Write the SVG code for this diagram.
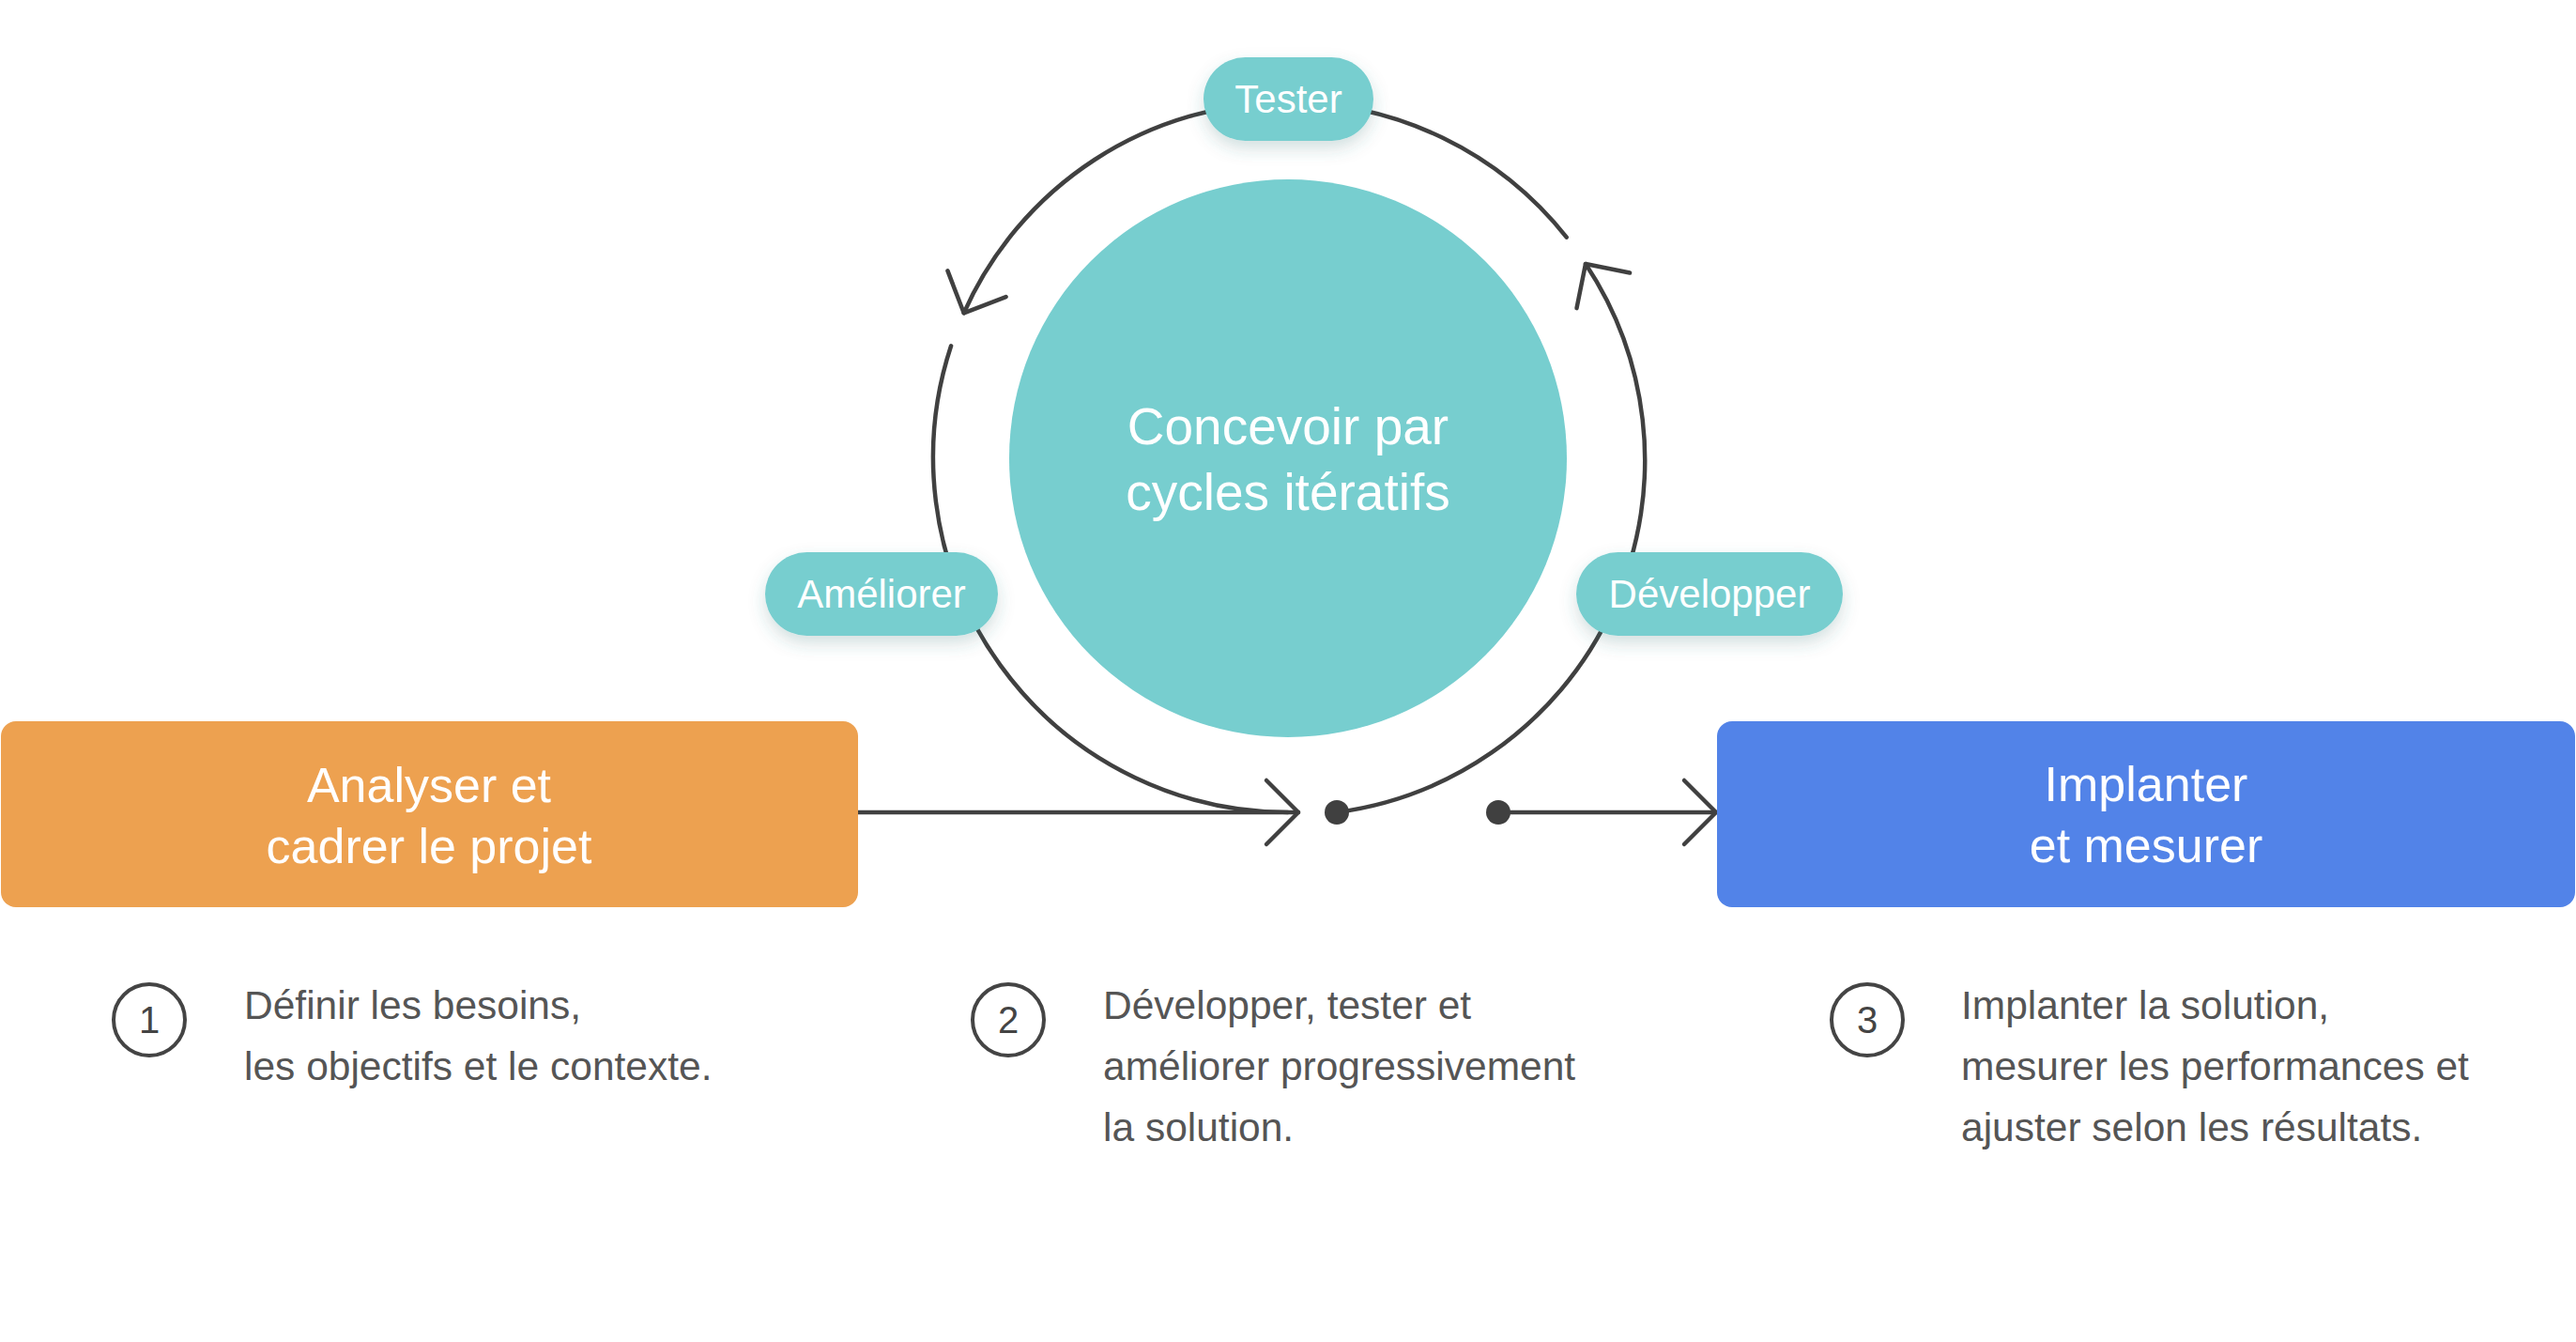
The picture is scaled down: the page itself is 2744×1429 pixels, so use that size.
<svg xmlns="http://www.w3.org/2000/svg" width="2744" height="1429" viewBox="0 0 2744 1429">
  <defs>
    <style>
      .lbl { font-family: "Liberation Sans", Arial, sans-serif; fill: #ffffff; text-anchor: middle; }
      .pill { fill: #77CECF; }
      .conn { fill: none; stroke: #404040; stroke-width: 4.5; stroke-linecap: round; }
      .dot { fill: #404040; }
      .desc { font-family: "Liberation Sans", Arial, sans-serif; font-size: 42.5px; fill: #555555; }
      .num { fill: none; stroke: #444444; stroke-width: 4; }
      .numt { font-family: "Liberation Sans", Arial, sans-serif; font-size: 40px; fill: #444444; text-anchor: middle; }
    </style>
    <filter id="shadow" x="-30%" y="-40%" width="160%" height="200%">
      <feDropShadow dx="0" dy="8" stdDeviation="9" flood-color="#2d6e70" flood-opacity="0.22"/>
    </filter>
    <marker id="chev" markerUnits="userSpaceOnUse" viewBox="-42 -42 50 84" markerWidth="50" markerHeight="84" refX="0" refY="0" orient="auto" overflow="visible">
      <path d="M-34,-34 L0,0 L-34,34" fill="none" stroke="#404040" stroke-width="4.5" stroke-linecap="round" stroke-linejoin="round"/>
    </marker>
  </defs>
  <rect width="2744" height="1429" fill="#ffffff"/>

  <g id="connectors">
    <path class="conn" d="M1013.1,368.3 A378,378 0 0 0 1372,865"/>
    <path class="conn" d="M1372,109 A378,378 0 0 0 1026.7,333.3" marker-end="url(#chev)"/>
    <path class="conn" d="M1372,109 A378,378 0 0 1 1668.7,252.7"/>
    <path class="conn" d="M1424,865 A378,378 0 0 0 1689,281" marker-end="url(#chev)"/>
    <path class="conn" d="M914,865 H1383" marker-end="url(#chev)"/>
    <path class="conn" d="M1596,865 H1828" marker-end="url(#chev)"/>
    <circle class="dot" cx="1424" cy="865" r="13"/>
    <circle class="dot" cx="1596" cy="865" r="13"/>
  </g>

  <g id="center">
    <circle cx="1372" cy="488" r="297" fill="#77CECF"/>
    <text class="lbl" font-size="55" x="1372" y="473">Concevoir par</text>
    <text class="lbl" font-size="55" x="1372" y="543">cycles itératifs</text>
  </g>

  <g id="tester">
    <rect class="pill" filter="url(#shadow)" x="1282" y="61" width="181" height="89" rx="44.5"/>
    <text class="lbl" font-size="42" x="1372.5" y="120">Tester</text>
  </g>

  <g id="ameliorer">
    <rect class="pill" filter="url(#shadow)" x="815" y="588" width="248" height="89" rx="44.5"/>
    <text class="lbl" font-size="42" x="939" y="647">Améliorer</text>
  </g>

  <g id="developper">
    <rect class="pill" filter="url(#shadow)" x="1679" y="588" width="284" height="89" rx="44.5"/>
    <text class="lbl" font-size="42" x="1821" y="647">Développer</text>
  </g>

  <g id="analyser">
    <rect x="1" y="768" width="913" height="198" rx="16" fill="#EDA150"/>
    <text class="lbl" font-size="52" x="457" y="854">Analyser et</text>
    <text class="lbl" font-size="52" x="457" y="919">cadrer le projet</text>
  </g>

  <g id="implanter">
    <rect x="1829" y="768" width="914" height="198" rx="16" fill="#5283E8"/>
    <text class="lbl" font-size="52" x="2286" y="853">Implanter</text>
    <text class="lbl" font-size="52" x="2286" y="918">et mesurer</text>
  </g>

  <g id="step1">
    <circle class="num" cx="159" cy="1086" r="38"/>
    <text class="numt" x="159" y="1100">1</text>
    <text class="desc" x="260" y="1085">Définir les besoins,</text>
    <text class="desc" x="260" y="1150">les objectifs et le contexte.</text>
  </g>

  <g id="step2">
    <circle class="num" cx="1074" cy="1086" r="38"/>
    <text class="numt" x="1074" y="1100">2</text>
    <text class="desc" x="1175" y="1085">Développer, tester et</text>
    <text class="desc" x="1175" y="1150">améliorer progressivement</text>
    <text class="desc" x="1175" y="1215">la solution.</text>
  </g>

  <g id="step3">
    <circle class="num" cx="1989" cy="1086" r="38"/>
    <text class="numt" x="1989" y="1100">3</text>
    <text class="desc" x="2089" y="1085">Implanter la solution,</text>
    <text class="desc" x="2089" y="1150">mesurer les performances et</text>
    <text class="desc" x="2089" y="1215">ajuster selon les résultats.</text>
  </g>
</svg>
